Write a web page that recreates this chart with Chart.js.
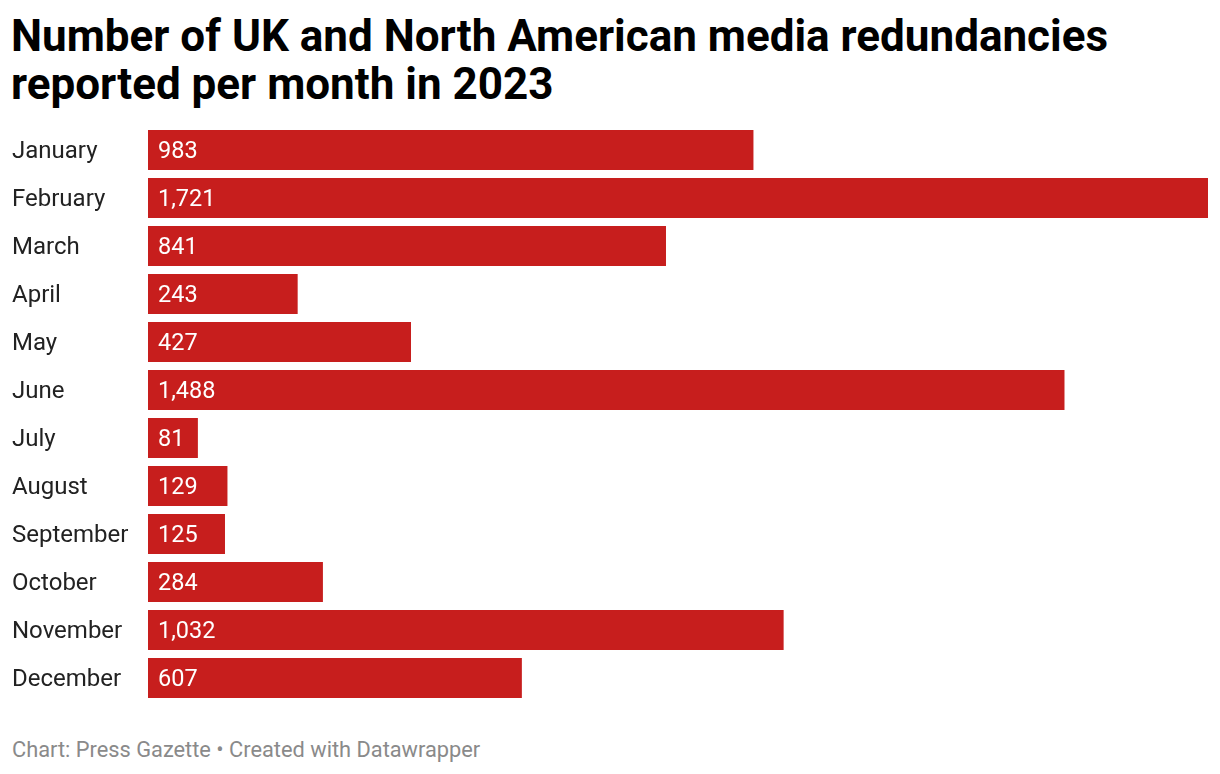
<!DOCTYPE html>
<html>
<head>
<meta charset="utf-8">
<script src="https://cdn.jsdelivr.net/npm/chart.js@4/dist/chart.umd.min.js"></script>
<style>
  html, body { margin: 0; padding: 0; background: #fff; }
  body { width: 1220px; height: 774px; position: relative; overflow: hidden; font-family: Roboto, sans-serif; }
  #title { position: absolute; left: 11px; top: 12px; margin: 0; font-size: 44px; font-weight: 700; line-height: 48px; color: #000; }
  #wrap { position: absolute; left: 0; top: 126px; width: 1220px; height: 576px; }
  #footer { position: absolute; left: 12px; top: 737px; font-size: 21.8px; color: #8a8a8a; line-height: 26px; }
</style>
</head>
<body>
<h1 id="title">Number of UK and North American media redundancies<br>reported per month in 2023</h1>
<div id="wrap"><canvas id="c"></canvas></div>
<div id="footer">Chart: Press Gazette • Created with Datawrapper</div>
<script>
const months = ["January","February","March","April","May","June","July","August","September","October","November","December"];
const redundancies = [983, 1721, 841, 243, 427, 1488, 81, 129, 125, 284, 1032, 607];
const barColor = "#c71e1d";

const valueLabels = {
  id: "valueLabels",
  afterDatasetsDraw(chart) {
    const ctx = chart.ctx;
    const meta = chart.getDatasetMeta(0);
    ctx.save();
    ctx.font = "23.5px Roboto";
    ctx.fillStyle = "#ffffff";
    ctx.textAlign = "left";
    ctx.textBaseline = "middle";
    meta.data.forEach((bar, i) => {
      ctx.fillText(redundancies[i].toLocaleString("en-US"), bar.base + 10, bar.y + 2);
    });
    ctx.restore();
  }
};

new Chart(document.getElementById("c"), {
  type: "bar",
  data: {
    labels: months,
    datasets: [{
      data: redundancies,
      backgroundColor: barColor,
      borderWidth: 0,
      barPercentage: 40/48,
      categoryPercentage: 1
    }]
  },
  options: {
    indexAxis: "y",
    responsive: true,
    maintainAspectRatio: false,
    animation: false,
    layout: { padding: { left: 12, right: 12, top: 0, bottom: 0 } },
    plugins: { legend: { display: false }, tooltip: { enabled: false }, title: { display: false } },
    scales: {
      x: { display: false, min: 0, max: 1721 },
      y: {
        grid: { display: false, drawTicks: false },
        border: { display: false },
        ticks: { crossAlign: "far", color: "#222", font: { family: "Roboto", size: 24 }, padding: 0, labelOffset: 2 },
        afterFit(scale) { scale.width = 136; scale.paddingTop = 0; scale.paddingBottom = 0; }
      }
    }
  },
  plugins: [valueLabels]
});
</script>
</body>
</html>
